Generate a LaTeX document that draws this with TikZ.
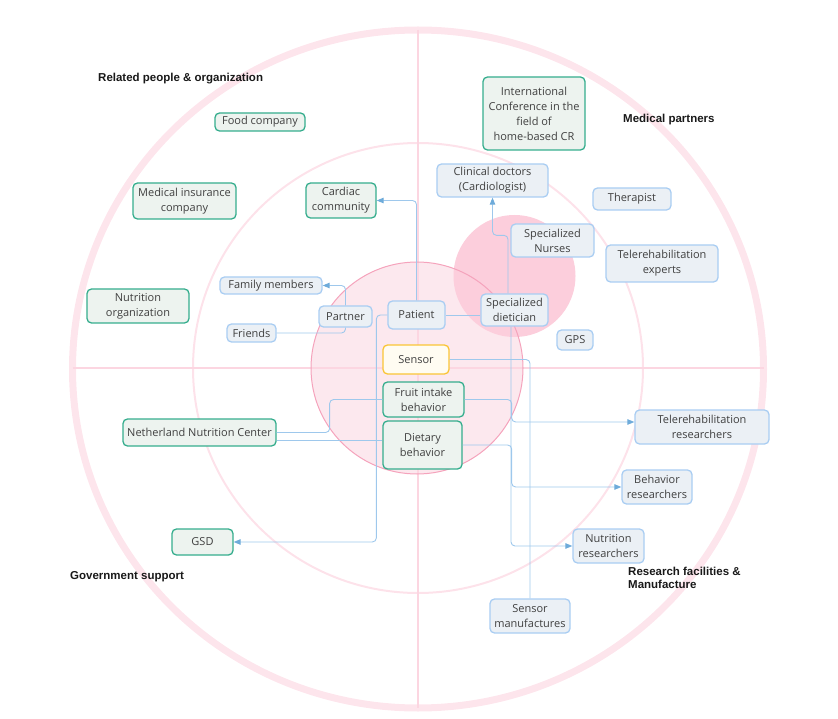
\documentclass[tikz,border=0pt]{standalone}
\usepackage{fontspec}
\setmainfont{Open Sans}
\newfontfamily\hdrfont{Liberation Sans}
\usetikzlibrary{arrows.meta}
\definecolor{ringpink}{HTML}{FDE5EC}
\definecolor{midpink}{HTML}{FDE2EA}
\definecolor{crosspink}{HTML}{FCD6E1}
\definecolor{innerfill}{HTML}{FCE8EE}
\definecolor{innerline}{HTML}{F5A3BC}
\definecolor{blobpink}{HTML}{FCCEDC}
\definecolor{grnline}{HTML}{35AD8D}
\definecolor{grnfill}{HTML}{EDF3EF}
\definecolor{bluline}{HTML}{A9CDF2}
\definecolor{blufill}{HTML}{EBF0F5}
\definecolor{ylwline}{HTML}{FAC536}
\definecolor{ylwfill}{HTML}{FFFCF2}
\definecolor{conn}{HTML}{9EC8EC}
\definecolor{tipc}{HTML}{6EABDA}
\definecolor{txt}{HTML}{404040}
\tikzset{
  basebox/.style={rounded corners=4.5pt, line width=1.3pt, align=center, inner sep=0pt,
    text=txt, font=\fontsize{11}{15}\selectfont},
  grnbox/.style={basebox, draw=grnline, fill=grnfill},
  blubox/.style={basebox, draw=bluline, fill=blufill},
  ylwbox/.style={basebox, draw=ylwline, fill=ylwfill},
  conline/.style={draw=conn, line width=0.9pt, rounded corners=4pt},
  conarr/.style={conline, -{Triangle[length=7pt,width=5.5pt,fill=tipc,color=tipc]}},
  hdr/.style={font=\hdrfont\bfseries\fontsize{11.5}{13}\selectfont, text=black!90, inner sep=0pt, align=left}
}
\begin{document}
\begin{tikzpicture}[x=1pt,y=-1pt]
\useasboundingbox (0,0) rectangle (838,719);
% rings
\draw[ringpink, line width=7pt] (418,369) ellipse [x radius=345.5, y radius=339];
\draw[midpink, line width=2pt] (418,368) circle [radius=225];
\fill[innerfill] (417,368) circle [radius=106];
\draw[crosspink, line width=2pt] (418,30) -- (418,708);
\draw[crosspink, line width=2pt] (72.5,368) -- (763.5,368);
\fill[blobpink] (514.5,276) circle [radius=61];
\draw[innerline, line width=1pt] (417,368) circle [radius=106];

% headers
\node[hdr, anchor=west] (hrel) at (98,79) {Related people \& organization};
\node[hdr, anchor=west] (hmed) at (623,120) {Medical partners};
\node[hdr, anchor=west] (hgov) at (70,577) {Government support};
\node[hdr, anchor=west] (hres) at (628,577.5) {Research facilities \&\\Manufacture};

% green nodes
\node[grnbox, minimum width=90pt, minimum height=18pt] (food) at (260,122) {Food company};
\node[grnbox, minimum width=103pt, minimum height=36pt] (ins) at (184.5,201) {Medical insurance\\company};
\node[grnbox, minimum width=70pt, minimum height=35pt] (cardiac) at (341,200.5) {Cardiac\\community};
\node[grnbox, minimum width=102pt, minimum height=34pt] (nutorg) at (138,306) {Nutrition\\organization};
\node[grnbox, minimum width=102pt, minimum height=73pt] (conf) at (534,113.5) {International\\Conference in the\\field of\\home-based CR};
\node[grnbox, minimum width=153pt, minimum height=27pt] (nnc) at (199.5,432.5) {Netherland Nutrition Center};
\node[grnbox, minimum width=61pt, minimum height=26pt] (gsd) at (202.5,542) {GSD};
\node[grnbox, minimum width=81pt, minimum height=35pt] (fruit) at (423.5,399.5) {Fruit intake\\behavior};
\node[grnbox, minimum width=79pt, minimum height=48pt] (diet) at (422.5,445) {Dietary\\behavior};
% yellow
\node[ylwbox, minimum width=66pt, minimum height=29pt] (sensor) at (416,359.5) {Sensor};
% blue nodes
\node[blubox, minimum width=102pt, minimum height=17pt] (family) at (271,285.5) {Family members};
\node[blubox, minimum width=49pt, minimum height=18pt] (friends) at (251.5,333) {Friends};
\node[blubox, minimum width=53pt, minimum height=21pt] (partner) at (345.5,316.5) {Partner};
\node[blubox, minimum width=57pt, minimum height=28pt] (patient) at (416.5,315) {Patient};
\node[blubox, minimum width=67pt, minimum height=32pt] (dietician) at (514.5,310) {Specialized\\dietician};
\node[blubox, minimum width=83pt, minimum height=33pt] (nurses) at (552.5,240.5) {Specialized\\Nurses};
\node[blubox, minimum width=111pt, minimum height=33pt] (clinical) at (492.5,180.5) {Clinical doctors\\(Cardiologist)};
\node[blubox, minimum width=78pt, minimum height=22pt] (therapist) at (632,199) {Therapist};
\node[blubox, minimum width=112pt, minimum height=37pt] (telexp) at (662,263.5) {Telerehabilitation\\experts};
\node[blubox, minimum width=36pt, minimum height=20pt] (gps) at (575,340) {GPS};
\node[blubox, minimum width=134pt, minimum height=34pt] (telres) at (702,427) {Telerehabilitation\\researchers};
\node[blubox, minimum width=70pt, minimum height=34pt] (behres) at (657,487) {Behavior\\researchers};
\node[blubox, minimum width=71pt, minimum height=34pt] (nutres) at (608.5,546) {Nutrition\\researchers};
\node[blubox, minimum width=80pt, minimum height=34pt] (sensman) at (530,616) {Sensor\\manufactures};

% connectors
\draw[conarr] (patient.north) |- (cardiac.east);
\draw[conarr] (partner.north) |- (family.east);
\draw[conline] (partner.south) |- (friends.east);
\draw[conarr] (patient.west) -- ++(-11,0) |- (gsd.east);
\draw[conline] (patient.east) -- (patient.east -| dietician.west);
\draw[conarr] ([xshift=-6.5pt]dietician.north) -- ++(0,-58) -| (clinical.south);
\draw[conarr] ([xshift=-3.5pt]dietician.south) |- (nutres.west);
\draw[conline] (sensor.east) -| (sensman.north);
\draw[conarr] (fruit.east) -- ++(47,0) |- ([yshift=5pt]telres.west);
\draw[conarr] (diet.east) -- ++(49,0) |- (behres.west);
\draw[conline] (nnc.east) -- ++(53,0) |- (fruit.west);
\draw[conline] ([yshift=-7.5pt]nnc.east) -- ([yshift=-7.5pt]nnc.east -| diet.west);
\end{tikzpicture}
\end{document}
